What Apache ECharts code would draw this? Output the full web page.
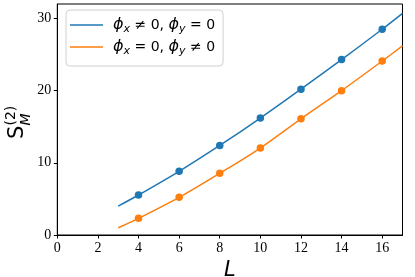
<!DOCTYPE html>
<html>
<head>
<meta charset="utf-8">
<script src="https://cdn.jsdelivr.net/npm/echarts@6/dist/echarts.min.js"></script>
<style>html,body{margin:0;padding:0;background:#fff}#c{width:415px;height:277px}</style>
</head>
<body>
<div id="c"></div>
<script>
// Data
var L_points = [4, 6, 8, 10, 12, 14, 16];
var blueDots = [5.54, 8.82, 12.4, 16.2, 20.2, 24.3, 28.5];
var orangeDots = [2.31, 5.22, 8.55, 12.05, 16.1, 20.0, 24.1];
var L_curve = [3, 4, 6, 8, 10, 12, 14, 16, 17];
var blueCurve = [4.0, 5.54, 8.82, 12.4, 16.2, 20.2, 24.3, 28.5, 30.7];
var orangeCurve = [1.0, 2.31, 5.22, 8.55, 12.05, 16.1, 20.0, 24.1, 26.2];
var xTicks = [0, 2, 4, 6, 8, 10, 12, 14, 16];
var yTicks = [0, 10, 20, 30];
var seriesNames = ['phix', 'phiy'];

function pairs(xs, ys) { return xs.map(function (x, i) { return [x, ys[i]]; }); }

var BLUE = '#1f77b4', ORANGE = '#ff7f0e';
var serif = '"Liberation Serif", "Times New Roman", serif';
var sans = '"DejaVu Sans", sans-serif';

var legendRich = {
  p: { fontFamily: sans, fontStyle: 'italic', fontSize: 16, color: '#000', lineHeight: 20 },
  s: { fontFamily: sans, fontStyle: 'italic', fontSize: 11, color: '#000', verticalAlign: 'bottom', lineHeight: 12 },
  t: { fontFamily: sans, fontSize: 14, color: '#000', lineHeight: 20 }
};
var legendText = {
  phix: '{p|ϕ}{s|x}{t| ≠ 0, }{p|ϕ}{s|y}{t| = 0}',
  phiy: '{p|ϕ}{s|x}{t| = 0, }{p|ϕ}{s|y}{t| ≠ 0}'
};

var chart = echarts.init(document.getElementById('c'), null, { renderer: 'canvas' });
chart.setOption({
  animation: false,
  grid: { left: 57.3, right: 12.5, top: 4, bottom: 42, show: true, borderColor: '#000', borderWidth: 1, backgroundColor: 'transparent', outerBoundsMode: 'none', containLabel: false },
  xAxis: {
    type: 'value', min: 0, max: 17, interval: 2,
    name: 'L', nameLocation: 'middle', nameGap: 21,
    nameTextStyle: { fontFamily: sans, fontStyle: 'italic', fontSize: 21, color: '#000' },
    axisLine: { show: true, onZero: false, lineStyle: { color: '#000', width: 1 } },
    axisTick: { show: true, length: 3.5, customValues: xTicks, lineStyle: { color: '#000' } },
    axisLabel: { customValues: xTicks, fontFamily: serif, fontSize: 14, color: '#000', margin: 6 },
    splitLine: { show: false }
  },
  yAxis: {
    type: 'value', min: 0, max: 32, interval: 10,
    axisLine: { show: true, onZero: false, lineStyle: { color: '#000', width: 1 } },
    axisTick: { show: true, length: 3.5, customValues: yTicks, lineStyle: { color: '#000' } },
    axisLabel: { customValues: yTicks, fontFamily: serif, fontSize: 14, color: '#000', margin: 6 },
    splitLine: { show: false }
  },
  legend: {
    orient: 'vertical', left: 66, top: 10,
    data: seriesNames,
    icon: 'rect', itemWidth: 33, itemHeight: 1.5, itemGap: 4,
    padding: [7, 8, 9, 4],
    backgroundColor: 'rgba(255,255,255,0.8)', borderColor: '#d0d0d0', borderWidth: 1, borderRadius: 4,
    formatter: function (n) { return legendText[n]; },
    textStyle: { rich: legendRich, padding: [0, 0, 0, 5] }
  },
  series: [
    { name: seriesNames[0], type: 'line', data: pairs(L_curve, blueCurve), smooth: 0.3, showSymbol: false, symbol: 'none', color: BLUE, lineStyle: { width: 1.5, color: BLUE }, z: 2 },
    { name: seriesNames[1], type: 'line', data: pairs(L_curve, orangeCurve), smooth: 0.3, showSymbol: false, symbol: 'none', color: ORANGE, lineStyle: { width: 1.5, color: ORANGE }, z: 2 },
    { name: 'dotsBlue', type: 'scatter', data: pairs(L_points, blueDots), symbolSize: 7.5, itemStyle: { color: BLUE, opacity: 1 }, z: 3 },
    { name: 'dotsOrange', type: 'scatter', data: pairs(L_points, orangeDots), symbolSize: 7.5, itemStyle: { color: ORANGE, opacity: 1 }, z: 3 }
  ],
  graphic: [{
    type: 'group', x: 25, y: 139, rotation: Math.PI / 2,
    children: [
      { type: 'text', x: 0, y: -7, style: { text: 'S', font: '21px "DejaVu Sans"', fill: '#000', verticalAlign: 'middle', align: 'left' } },
      { type: 'text', x: 13.5, y: 1, style: { text: 'M', font: 'italic 14px "DejaVu Sans"', fill: '#000', verticalAlign: 'middle', align: 'left' } },
      { type: 'text', x: 13.5, y: -14, style: { text: '(2)', font: '14px "DejaVu Sans"', fill: '#000', verticalAlign: 'middle', align: 'left' } }
    ]
  }]
});
</script>
</body>
</html>
